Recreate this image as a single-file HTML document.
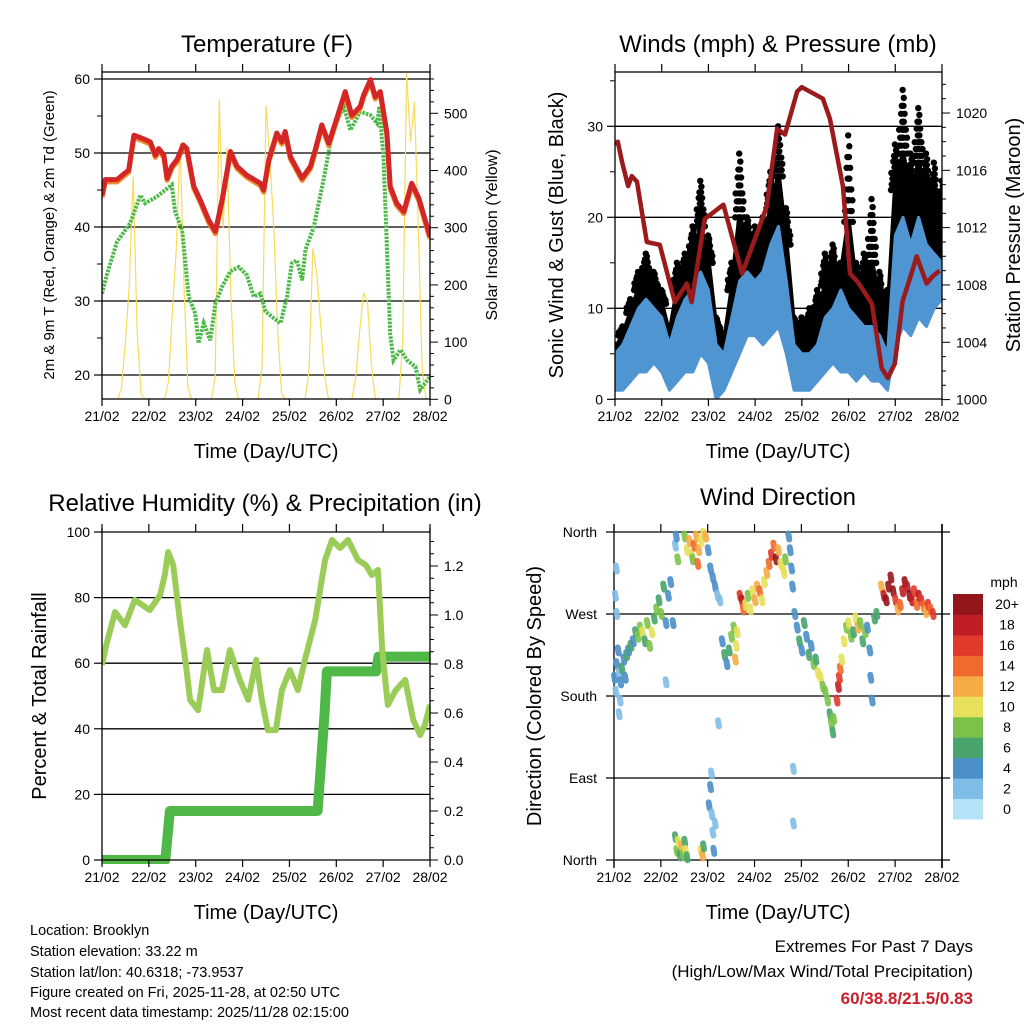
<!DOCTYPE html>
<html><head><meta charset="utf-8">
<style>
html,body{margin:0;padding:0;background:#fff;}
svg{display:block;font-family:"Liberation Sans",Arial,sans-serif;}
</style></head>
<body>
<svg id="chart" width="1024" height="1024" viewBox="0 0 1024 1024" xmlns="http://www.w3.org/2000/svg">
<defs>
<clipPath id="c1"><rect x="102" y="72" width="328" height="327"/></clipPath>
<clipPath id="c2"><rect x="615" y="72" width="327" height="327"/></clipPath>
<clipPath id="c3"><rect x="102" y="528" width="328" height="336"/></clipPath>
<clipPath id="c4"><rect x="605" y="524" width="345" height="344"/></clipPath>
</defs>
<g id="root"></g>
<text x="267" y="52" font-size="24" text-anchor="middle">Temperature (F)</text>
<text x="778" y="52" font-size="24" text-anchor="middle">Winds (mph) &amp; Pressure (mb)</text>
<text x="265" y="511" font-size="24" text-anchor="middle">Relative Humidity (%) &amp; Precipitation (in)</text>
<text x="778" y="505" font-size="24" text-anchor="middle">Wind Direction</text>
<text x="266" y="458" font-size="20" text-anchor="middle">Time (Day/UTC)</text>
<text x="778" y="458" font-size="20" text-anchor="middle">Time (Day/UTC)</text>
<text x="266" y="919" font-size="20" text-anchor="middle">Time (Day/UTC)</text>
<text x="778" y="919" font-size="20" text-anchor="middle">Time (Day/UTC)</text>
<text transform="translate(54,235) rotate(-90)" font-size="15" text-anchor="middle">2m &amp; 9m T (Red, Orange) &amp; 2m Td (Green)</text>
<text transform="translate(497,235) rotate(-90)" font-size="16" text-anchor="middle">Solar Insolation (Yellow)</text>
<text transform="translate(563,235) rotate(-90)" font-size="20" text-anchor="middle">Sonic Wind &amp; Gust (Blue, Black)</text>
<text transform="translate(1020,235) rotate(-90)" font-size="20" text-anchor="middle">Station Pressure (Maroon)</text>
<text transform="translate(46,696) rotate(-90)" font-size="20" text-anchor="middle">Percent &amp; Total Rainfall</text>
<text transform="translate(541,696) rotate(-90)" font-size="20" text-anchor="middle">Direction (Colored By Speed)</text>
<g font-size="14.5">
<text x="30" y="935">Location: Brooklyn</text>
<text x="30" y="956">Station elevation: 33.22 m</text>
<text x="30" y="977">Station lat/lon: 40.6318; -73.9537</text>
<text x="30" y="997">Figure created on Fri, 2025-11-28, at 02:50 UTC</text>
<text x="30" y="1017">Most recent data timestamp: 2025/11/28 02:15:00</text>
</g>
<text x="973" y="952" font-size="17" text-anchor="end">Extremes For Past 7 Days</text>
<text x="973" y="977" font-size="17" text-anchor="end">(High/Low/Max Wind/Total Precipitation)</text>
<text x="973" y="1004" font-size="17" font-weight="bold" fill="#c8202a" text-anchor="end">60/38.8/21.5/0.83</text>
</svg>
<script>
// ---------- DATA ----------
const dayLabels = ["21/02","22/02","23/02","24/02","25/02","26/02","27/02","28/02"];
const tempTimes = [0,0.07,0.32,0.57,0.68,0.85,1.03,1.14,1.21,1.32,1.39,1.49,1.60,1.73,1.81,1.96,2.10,2.28,2.42,2.56,2.74,2.88,3.09,3.38,3.45,3.56,3.73,3.84,3.91,4.02,4.27,4.45,4.55,4.69,4.84,5.01,5.19,5.33,5.51,5.58,5.73,5.83,5.94,6.08,6.15,6.29,6.44,6.61,6.76,7.0];
const tempValues = [44.3,46.4,46.4,47.7,52.4,52.0,51.5,49.7,50.6,49.7,46.6,48.2,49.1,51.1,50.6,45.5,43.6,40.9,39.4,43.6,50.2,48.2,47.0,45.9,45.0,49.1,52.7,51.5,52.9,49.5,46.6,48.2,50.4,53.8,51.3,54.7,58.3,55.1,56.3,57.8,59.9,57.6,58.3,52.7,45.5,43.2,42.1,45.9,43.9,38.7];
const dewTimes = [0,0.11,0.32,0.60,0.82,0.92,1.17,1.49,1.56,1.71,1.85,1.99,2.06,2.17,2.31,2.42,2.56,2.74,2.92,3.09,3.24,3.38,3.49,3.66,3.81,3.95,4.05,4.16,4.27,4.34,4.52,4.73,4.87,5.01,5.16,5.30,5.51,5.73,5.87,5.92,6.01,6.08,6.15,6.22,6.37,6.51,6.69,6.79,7.0];
const dewValues = [31.0,33.7,38.0,40.5,44.3,43.2,44.1,45.7,42.1,39.6,30.6,28.3,24.3,27.0,24.7,29.7,31.9,34.0,34.6,33.5,30.6,31.0,28.6,27.7,27.0,30.6,35.1,35.5,32.8,36.9,40.0,46.4,51.3,54.2,56.3,53.1,55.6,55.1,54.0,56.3,49.1,37.3,25.6,22.0,23.4,22.0,21.1,18.0,19.8];
// solar insolation in 2-hour steps (W/m2), starting 21/02 00 UTC
const solarValues = [0,0,0,0,0,20,100,200,389,120,10,0, 0,0,0,0,0,30,150,260,448,200,20,0, 0,0,0,0,0,40,524,300,440,180,30,0, 0,0,0,0,0,60,514,420,300,120,10,0, 0,0,0,0,0,50,264,220,130,40,0,0, 0,0,0,0,0,40,120,186,170,60,0,0, 0,0,0,0,0,100,570,450,520,300,50,0, 0];
// wind in 4-hour bins (mph)
const windLow  = [1,1,2,3,3,4,3,1,2,3,3,5,4,0,1,3,5,7,7,6,7,8,5,1,1,1,2,3,4,3,3,2,3,2,2,1,6,8,7,9,8,10,11];
const windHigh = [5,6,8,10,11,10,9,6,9,11,12,14,12,6,5,9,13,14,13,14,17,19,13,6,5,5,6,9,10,12,10,9,8,8,7,5,18,20,17,20,17,16,15];
const gustHigh = [6,8,11,14,16,14,12,8,15,16,19,24,18,9,7,15,27,20,19,20,25,30,21,9,9,10,12,16,17,15,29,15,16,22,14,12,28,34,27,32,27,26,24];
const presTimes = [0,0.06,0.15,0.28,0.36,0.47,0.68,0.96,1.28,1.54,1.64,1.92,2.32,2.72,3.04,3.25,3.47,3.64,3.90,4.00,4.45,4.60,4.88,5.03,5.20,5.50,5.71,5.84,5.99,6.16,6.31,6.46,6.67,6.80,6.95];
const presValues = [1017.8,1018,1016.6,1014.9,1015.6,1015.2,1011,1010.8,1006.8,1008.1,1006.8,1012.6,1013.6,1008.8,1011.6,1013.5,1018.9,1018.5,1021.5,1021.8,1021,1019.6,1014.9,1008.8,1008.2,1006.7,1002.2,1001.5,1002.5,1006.9,1008.4,1010,1008.1,1008.6,1009];
const rhTimes = [0,0.09,0.28,0.49,0.70,1.02,1.24,1.34,1.41,1.52,1.66,1.79,1.88,2.05,2.24,2.39,2.56,2.73,2.94,3.12,3.29,3.41,3.54,3.71,3.84,4.01,4.18,4.33,4.55,4.76,4.91,5.08,5.25,5.46,5.63,5.76,5.89,5.98,6.10,6.27,6.47,6.64,6.79,6.89,7.0];
const rhValues = [59.5,65.5,75.6,71.6,79.3,76.2,80.8,86.9,93.9,89.9,73.2,59.5,48.8,45.7,64.0,51.8,51.8,64.0,54.9,48.8,61.0,48.8,39.6,39.6,51.8,57.9,51.8,61.0,73.2,91.5,97.6,95.1,97.6,91.5,89.9,86.9,88.4,64.0,47.3,51.8,54.9,42.7,38.1,41.2,47.3];
const precipTimes = [0,1.35,1.45,4.6,4.75,4.8,5.85,5.9,7.0];
const precipValues = [0,0,0.2,0.2,0.6,0.77,0.77,0.83,0.83];
const dirTimes = [0,0.03,0.05,0.08,0.1,0.13,0.16,0.2,0.23,0.26,0.3,0.05,0.02,0.1,0.12,0.04,
0.35,0.4,0.45,0.5,0.55,0.6,0.65,0.7,0.75,0.8,0.85,0.9,0.95,1.0,1.05,1.1,1.15,1.2,1.25,1.1,
1.3,1.32,1.35,1.5,1.55,1.6,1.65,1.7,1.75,1.8,1.85,1.9,1.95,1.67,1.78,
2.0,2.05,2.1,2.15,2.2,2.25,2.22,
2.3,2.35,2.4,2.45,2.5,2.55,2.6,2.58,2.62,
2.68,2.72,2.75,2.8,2.85,2.9,2.95,3.0,3.05,3.1,3.15,3.2,
3.25,3.3,3.35,3.4,3.45,3.5,3.55,3.6,3.65,3.62,
3.72,3.75,3.78,3.8,3.82,3.82,3.85,3.9,3.95,4.0,4.05,4.1,4.15,4.2,4.25,4.3,4.35,4.4,4.45,4.5,
4.55,4.6,4.63,4.66,4.68,4.75,4.78,4.8,4.82,4.85,
4.9,4.95,5.0,5.05,5.1,5.15,5.2,5.25,5.3,5.35,5.4,5.45,5.47,5.5,5.55,5.6,
5.7,5.75,5.8,5.85,5.9,5.95,6.0,6.05,6.1,6.15,6.2,6.25,6.3,6.35,6.4,6.45,6.5,6.55,6.6,6.65,6.7,6.75,6.8,
1.3,1.33,1.36,1.4,1.43,1.47,1.5,1.52,1.55,1.85,1.88,1.9,2.02,2.05,2.08,2.1,2.12,2.07,2.15];
const dirValues = [200,185,215,230,205,195,210,220,200,225,230,270,290,160,175,320,
235,240,250,245,255,250,240,260,235,250,265,275,285,270,300,260,290,305,260,195,
345,355,330,355,340,350,335,345,355,340,350,358,355,330,325,
340,320,310,300,290,285,150,
240,225,215,230,245,255,235,220,250,
290,285,275,280,290,275,295,285,300,295,285,305,
315,325,335,345,330,340,325,320,330,315,
355,340,320,300,100,40,270,255,240,230,260,245,225,235,215,220,205,200,190,185,
175,160,150,140,155,175,190,200,210,220,
240,255,260,245,250,265,255,260,240,250,255,230,200,175,265,270,
300,290,285,300,310,295,285,275,280,295,305,300,290,285,295,280,290,285,278,272,280,275,270,
25,10,20,5,15,5,20,10,3,10,5,15,60,80,50,30,10,95,40];
const dirSpeeds = [3,2,4,3,2,4,5,4,3,5,4,2,1,1,1,1,
5,3,6,8,7,9,6,7,7,9,6,8,6,7,6,4,3,3,3,2,
2,3,7,7,9,12,10,14,11,12,10,9,11,8,13,
3,4,4,3,2,2,2,
4,5,4,6,7,8,9,12,10,
16,18,14,10,8,9,10,12,11,14,10,9,
11,14,16,14,20,12,10,9,7,10,
3,4,3,4,1,1,4,3,5,4,6,3,5,4,8,6,9,10,7,8,
7,6,8,5,8,15,17,16,13,10,
9,8,10,7,6,9,11,8,6,7,4,3,3,4,5,6,
12,18,20,19,21,20,16,12,14,17,20,18,21,18,16,13,18,15,14,12,16,13,15,
6,7,9,6,12,8,6,9,6,10,12,5,4,3,2,2,3,2,2];
const speedLabels = ["0","2","4","6","8","10","12","14","16","18","20+"];
const speedColors = ["#b3e3f7","#7fbce6","#4a8fc8","#48a46c","#7bc24a","#e6e05a","#f5ac45","#ef6a2c","#df3a2a","#be1e24","#93161a"];

// ---------- HELPERS ----------
const NS="http://www.w3.org/2000/svg";
const root=document.getElementById('root');
function mk(tag,attrs,parent){const e=document.createElementNS(NS,tag);for(const k in attrs)e.setAttribute(k,attrs[k]);(parent||root).appendChild(e);return e;}
function grp(name,clip){const g=mk('g',clip?{'clip-path':'url(#'+clip+')'}:{});


return g;}
function line(g,x1,y1,x2,y2,w,c){return mk('line',{x1,y1,x2,y2,stroke:c||'#000','stroke-width':w||1},g);}
function txt(g,x,y,s,anchor,size){const t=mk('text',{x,y,'font-size':size||14,'text-anchor':anchor||'middle'},g);t.textContent=s;return t;}
function pathFrom(xs,ys,fx,fy){return xs.map((t,i)=>(i?'L':'M')+fx(t).toFixed(1)+' '+fy(ys[i]).toFixed(1)).join(' ');}

// ---------- PANEL SCALES ----------
const x1=d=>102+d*46.86, x2=d=>615+d*46.71, x4=d=>614+d*46.85;
const yT=v=>79+(60-v)*7.4, yS=v=>399.3-v*0.572;
const yW=v=>399.3-v*9.1, yP=v=>399.6-(v-1000)*14.33;
const yR=v=>860-v*3.28, yPr=v=>860-v*245;
const yD=v=>860-v*82/90;

function xAxis(g,fx,yb,yt,withTop){
  dayLabels.forEach((lab,i)=>{const x=fx(i);
    line(g,x,yb,x,yb+7,1.2);
    if(withTop) line(g,x,yt,x,yt-8,1.2);
    const t=txt(g,x,yb+22,lab,'middle',14);
    
    
  });
}

// ---------- PANEL 1: TEMPERATURE ----------
{
  const g=grp('temperature-panel');
  [20,30,40,50,60].forEach(v=>line(g,102,yT(v),430,yT(v),1.3));
  const d=grp('temperature-series','c1'); g.appendChild(d);
  const solT=solarValues.map((v,i)=>i/12);
  const sp=mk('path',{d:pathFrom(solT,solarValues,x1,yS),fill:'none',stroke:'#f7dc5a','stroke-width':1.2},d);
  
  
  const dp=mk('path',{d:pathFrom(dewTimes,dewValues,x1,yT),fill:'none',stroke:'#4cb848','stroke-width':4,'stroke-dasharray':'2.5 1.2'},d);
  
  
  const op=mk('path',{d:pathFrom(tempTimes,tempValues.map(v=>v-0.3),x1,yT),fill:'none',stroke:'#f08a2a','stroke-width':5,'stroke-linejoin':'round'},d);
  
  
  const rp=mk('path',{d:pathFrom(tempTimes,tempValues,x1,yT),fill:'none',stroke:'#d42527','stroke-width':5,'stroke-linejoin':'round'},d);
  
  
  mk('rect',{x:102,y:72,width:328,height:327,fill:'none',stroke:'#000','stroke-width':1.3},g);
  xAxis(g,x1,399,72,true);
  [20,30,40,50,60].forEach(v=>{line(g,102,yT(v),94,yT(v),1.2);
    const t=txt(g,90,yT(v)+5,String(v),'end',14);
    
    });
  [25,35,45,55].forEach(v=>line(g,102,yT(v),97,yT(v),1));
  for(let s=0;s<=560;s+=20){line(g,430,yS(s),s%100?434:438,yS(s),1);}
  [0,100,200,300,400,500].forEach(v=>{
    const t=txt(g,444,yS(v)+5,String(v),'start',14);
    
    });
}

// ---------- PANEL 2: WINDS ----------
{
  const g=grp('winds-panel');
  [10,20,30].forEach(v=>line(g,615,yW(v),942,yW(v),1.3));
  const d=grp('wind-series','c2'); g.appendChild(d);
  const bt=windLow.map((v,k)=>k/6);
  const mid=gustHigh.map((gh,k)=>windHigh[k]+0.5*(gh-windHigh[k]));
  const gpoly=bt.map((t,k)=>x2(t).toFixed(1)+','+yW(mid[k]).toFixed(1)).concat(bt.slice().reverse().map((t,i)=>{const k=bt.length-1-i;return x2(t).toFixed(1)+','+yW((windLow[k]+windHigh[k])/2).toFixed(1);}));
  const gc=mk('polygon',{points:gpoly.join(' '),fill:'#000',stroke:'#000','stroke-width':5,'stroke-linejoin':'round'},d);
  
  
  gustHigh.forEach((gh,k)=>{
    for(let j=0;j<=8;j++){
      const v=mid[k]+(gh-mid[k])*(j/8);
      const n=j<4?4:(j<7?2:1);
      for(let m=0;m<n;m++){
        const off=(m-(n-1)/2)*0.05+(((j*7+m*3)%5)-2)*0.008;
        const c=mk('circle',{cx:x2(k/6+off),cy:yW(v),r:3.2,fill:'#000'},d);
        
        
      }
    }
  });
  const poly=bt.map((t,k)=>x2(t).toFixed(1)+','+yW(windHigh[k]).toFixed(1)).concat(bt.slice().reverse().map((t,i)=>{const k=bt.length-1-i;return x2(t).toFixed(1)+','+yW(windLow[k]).toFixed(1);}));
  const wb=mk('polygon',{points:poly.join(' '),fill:'#4f95d1',stroke:'#4f95d1','stroke-width':3,'stroke-linejoin':'round'},d);
  
  
  const pp=mk('path',{d:pathFrom(presTimes,presValues,x2,yP),fill:'none',stroke:'#9b1b1d','stroke-width':4.5,'stroke-linejoin':'round'},d);
  
  
  mk('rect',{x:615,y:72,width:327,height:327,fill:'none',stroke:'#000','stroke-width':1.3},g);
  xAxis(g,x2,399,72,true);
  [0,10,20,30].forEach(v=>{line(g,615,yW(v),607,yW(v),1.2);
    const t=txt(g,603,yW(v)+5,String(v),'end',14);
    
    });
  [5,15,25,35].forEach(v=>line(g,615,yW(v),610,yW(v),1));
  for(let p=1000;p<=1022;p++){line(g,942,yP(p),p%4?946:950,yP(p),1);}
  [1000,1004,1008,1012,1016,1020].forEach(v=>{
    const t=txt(g,956,yP(v)+5,String(v),'start',14);
    
    });
}

// ---------- PANEL 3: RH & PRECIP ----------
{
  const g=grp('humidity-panel');
  [20,40,60,80,100].forEach(v=>line(g,102,yR(v),430,yR(v),1.3));
  const d=grp('humidity-series','c3'); g.appendChild(d);
  const pr=mk('path',{d:pathFrom(precipTimes,precipValues,x1,yPr),fill:'none',stroke:'#4fb847','stroke-width':10,'stroke-linejoin':'round'},d);
  
  
  const rh=mk('path',{d:pathFrom(rhTimes,rhValues,x1,yR),fill:'none',stroke:'#9ccc58','stroke-width':6,'stroke-linejoin':'round'},d);
  
  
  line(g,102,528,102,860,1.3); line(g,430,528,430,860,1.3); line(g,102,860,430,860,1.3);
  xAxis(g,x1,860,532,true);
  [0,20,40,60,80,100].forEach(v=>{line(g,102,yR(v),94,yR(v),1.2);
    const t=txt(g,90,yR(v)+5,String(v),'end',14);
    
    });
  for(let p=0;p<=1.3001;p+=0.05){line(g,430,yPr(p),Math.round(p*100)%20?434:438,yPr(p),1);}
  [0,0.2,0.4,0.6,0.8,1.0,1.2].forEach(v=>{
    const t=txt(g,444,yPr(v)+5,v.toFixed(1),'start',14);
    
    });
}

// ---------- PANEL 4: WIND DIRECTION ----------
{
  const g=grp('direction-panel');
  [0,90,180,270,360].forEach(v=>line(g,606,yD(v),950,yD(v),1.3));
  line(g,614,524,614,868,1.3); line(g,942,524,942,868,1.6);
  const d=grp('direction-points','c4'); g.appendChild(d);
  dirTimes.forEach((t,i)=>{
    const idx=Math.max(0,Math.min(10,Math.round(dirSpeeds[i]/2)));
    const x=x4(t), y=yD(dirValues[i]);
    const c=mk('line',{x1:x,y1:y-3,x2:x+1,y2:y+3,stroke:speedColors[idx],'stroke-width':6,'stroke-linecap':'round','stroke-opacity':0.9},d);
    
    
  });
  dayLabels.forEach((lab,i)=>{const x=x4(i);line(g,x,860,x,867,1.2);line(g,x,532,x,524,1.2);
    const t=txt(g,x,882,lab,'middle',14);
    
    });
  ["North","East","South","West","North"].forEach((lab,i)=>{
    const t=txt(g,597,yD(i*90)+5,lab,'end',14);
    
    });
  const cb=grp('speed-colorbar'); g.appendChild(cb);
  const h=225/11;
  speedColors.forEach((c,i)=>{
    const y=819-(i+1)*h;
    const r=mk('rect',{x:953,y:y,width:30,height:h+0.5,fill:c},cb);
    
    
    const t=txt(cb,1007,y+h/2+5,speedLabels[i],'middle',14);
    
    
  });
  const m=txt(cb,1004,587,'mph','middle',14);
  
  
}
</script>
</body></html>
